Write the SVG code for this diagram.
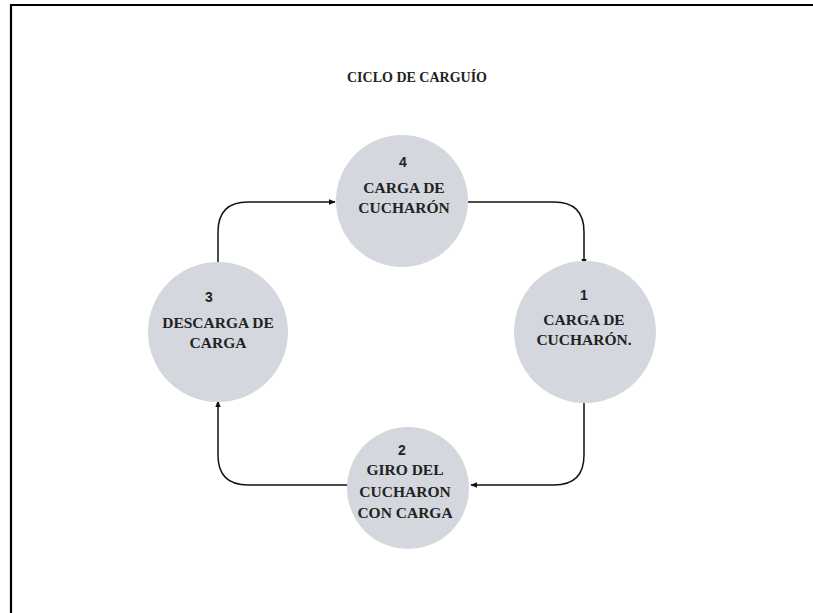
<svg xmlns="http://www.w3.org/2000/svg" width="813" height="613" viewBox="0 0 813 613">
<defs>
<style>
.node{fill:#d4d7de}
.num{font-family:"Liberation Sans",Arial,sans-serif;font-weight:bold;font-size:14px;fill:#222;text-anchor:middle}
.lbl{font-family:"Liberation Serif","Times New Roman",serif;font-weight:bold;font-size:15.5px;fill:#222;text-anchor:middle}
.title{font-family:"Liberation Serif","Times New Roman",serif;font-weight:bold;font-size:14px;fill:#222;text-anchor:middle}
.conn{fill:none;stroke:#111;stroke-width:1.5}
</style>
<marker id="arr" viewBox="0 0 10 10" refX="9" refY="5" markerWidth="7" markerHeight="7" orient="auto" markerUnits="userSpaceOnUse">
<path d="M0,1 L10,5 L0,9 z" fill="#111"/>
</marker>
</defs>
<rect width="813" height="613" fill="#fff"/>
<g id="frame">
<path d="M11,613 V5 H813" fill="none" stroke="#000" stroke-width="2.2"/>
</g>
<text class="title" x="417" y="82">CICLO DE CARGUÍO</text>
<g id="connectors">
<path class="conn" d="M468,202 H554 Q584,202 584,232 V265" marker-end="url(#arr)"/>
<path class="conn" d="M584,398 V455 Q584,485 554,485 H471" marker-end="url(#arr)"/>
<path class="conn" d="M348,485 H248 Q218,485 218,455 V401" marker-end="url(#arr)"/>
<path class="conn" d="M218,265 V232 Q218,202 248,202 H335" marker-end="url(#arr)"/>
</g>
<g id="node4">
<circle class="node" cx="402" cy="201" r="66"/>
<text class="num" x="403" y="167">4</text>
<text class="lbl" x="404" y="193">CARGA DE</text>
<text class="lbl" x="404" y="213">CUCHARÓN</text>
</g>
<g id="node1">
<circle class="node" cx="585" cy="332" r="71"/>
<text class="num" x="584" y="300">1</text>
<text class="lbl" x="584" y="325">CARGA DE</text>
<text class="lbl" x="584" y="345">CUCHARÓN.</text>
</g>
<g id="node2">
<circle class="node" cx="408" cy="488" r="61"/>
<text class="num" x="402" y="455">2</text>
<text class="lbl" x="405" y="475">GIRO DEL</text>
<text class="lbl" x="405" y="497">CUCHARON</text>
<text class="lbl" x="405" y="518">CON CARGA</text>
</g>
<g id="node3">
<circle class="node" cx="218" cy="332" r="70"/>
<text class="num" x="209" y="302">3</text>
<text class="lbl" x="218" y="328">DESCARGA DE</text>
<text class="lbl" x="218" y="348">CARGA</text>
</g>
</svg>
